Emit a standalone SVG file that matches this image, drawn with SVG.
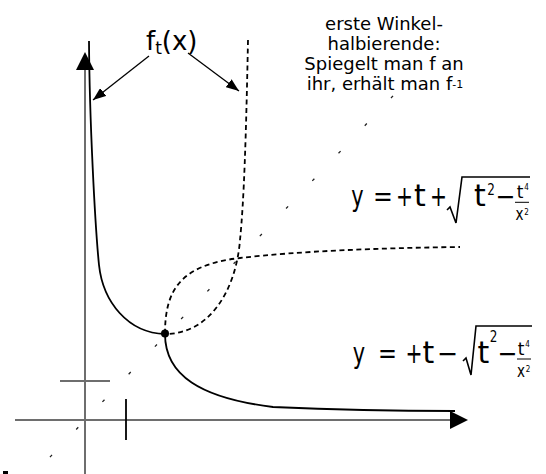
<svg xmlns="http://www.w3.org/2000/svg" width="546" height="474" viewBox="0 0 546 474">
<defs>
<style>
.axis{stroke:#6e6e6e;stroke-width:2;fill:none}
.curve{stroke:#000;stroke-width:1.8;fill:none}
.dash{stroke:#000;stroke-width:1.8;fill:none;stroke-dasharray:5 3.5}
.diag{stroke:#222;stroke-width:1.3;fill:none;stroke-dasharray:3 35.09}
.lbl{font-family:"DejaVu Sans","Liberation Sans",sans-serif;fill:#000}
.f{font-family:"DejaVu Sans","Liberation Sans",sans-serif;fill:#000;text-anchor:middle}
.rad{stroke:#000;stroke-width:1.6;fill:none}
.ptr{stroke:#000;stroke-width:1.3;fill:none}
</style>
<marker id="ah" viewBox="0 0 13 10" refX="13" refY="5" markerWidth="13" markerHeight="10" markerUnits="userSpaceOnUse" orient="auto">
<path d="M0,0 L13,5 L0,10 z" fill="#000"/>
</marker>
</defs>
<rect width="546" height="474" fill="#fff"/>

<g id="axes">
<line class="axis" x1="85" y1="62" x2="85" y2="474"/>
<polygon points="85,52 94,70 76,70" fill="#000"/>
<line class="axis" x1="15" y1="420" x2="452" y2="420"/>
<polygon points="468,420 450,411 450,429" fill="#000"/>
<line class="axis" x1="60" y1="381" x2="110" y2="381"/>
<line stroke="#000" stroke-width="1.8" x1="126" y1="399" x2="126" y2="440"/>
<rect x="3" y="471" width="5" height="4" fill="#000"/>
</g>

<g id="bisector">
<line class="diag" x1="49.97" y1="457.09" x2="393.03" y2="95.91"/>
</g>

<g id="curves">
<path id="f-upper" class="curve" d="M89,41 C89.5,120 95,225 99,265 C103,302 128,333 165,334"/>
<path id="f-lower" class="curve" d="M165,334 C165,375 200,398 273,407 C340,410 400,411 455,411"/>
<path id="inv-vertical" class="dash" d="M248,40 C246,140 244,200 240,240 C236,290 210,334 165,334"/>
<path id="inv-horizontal" class="dash" d="M165,334 C165,290 180,265 240,258 C300,251 380,248 460,247"/>
<circle cx="165" cy="333.5" r="4" fill="#000"/>
</g>

<g id="connectors">
<line class="ptr" x1="149" y1="56" x2="93" y2="100" marker-end="url(#ah)"/>
<line class="ptr" x1="188" y1="53" x2="239" y2="91" marker-end="url(#ah)"/>
</g>

<g id="label-f">
<text class="lbl" x="146" y="50" font-size="26">f<tspan font-size="17" dy="4">t</tspan><tspan font-size="26" dy="-4">(x)</tspan></text>
</g>

<g id="label-bisector">
<text class="lbl" x="384" y="30" font-size="18" text-anchor="middle">erste Winkel-</text>
<text class="lbl" x="384" y="50" font-size="18" text-anchor="middle">halbierende:</text>
<text class="lbl" x="384" y="70" font-size="18" text-anchor="middle">Spiegelt man f an</text>
<text class="lbl" x="385" y="90" font-size="18" text-anchor="middle">ihr, erhält man f<tspan font-size="11" dy="-2">-1</tspan></text>
</g>

<g id="formula-plus">
<text class="f" transform="translate(357.5,206) scale(0.72,1)" font-size="29">y</text>
<text class="f" transform="translate(383,206) scale(0.82,1)" font-size="29">=</text>
<text class="f" transform="translate(404.5,206) scale(0.7,1)" font-size="29">+</text>
<text class="f" x="420" y="206" font-size="30">t</text>
<text class="f" transform="translate(438.5,206) scale(0.7,1)" font-size="29">+</text>
<path class="rad" d="M447,210 L450,207 L456,223 L462,177 L530,177"/>
<text class="f" x="480" y="206" font-size="30">t</text>
<text class="f" transform="translate(491,195) scale(0.75,1)" font-size="16">2</text>
<text class="f" transform="translate(505.5,206) scale(0.85,1)" font-size="28">−</text>
<text class="f" x="520" y="198" font-size="17">t</text>
<text class="f" transform="translate(526.5,190) scale(0.8,1)" font-size="9">4</text>
<line stroke="#000" stroke-width="1" x1="515" y1="202.3" x2="529" y2="202.3"/>
<text class="f" transform="translate(519.5,220) scale(0.75,1)" font-size="18">x</text>
<text class="f" transform="translate(526.5,214.5) scale(0.8,1)" font-size="9">2</text>
</g>

<g id="formula-minus">
<text class="f" transform="translate(359,363) scale(0.72,1)" font-size="29">y</text>
<text class="f" transform="translate(387.5,363) scale(0.78,1)" font-size="29">=</text>
<text class="f" transform="translate(414,363) scale(0.7,1)" font-size="29">+</text>
<text class="f" x="428.5" y="363" font-size="30">t</text>
<text class="f" transform="translate(447.5,363) scale(0.9,1)" font-size="28">−</text>
<path class="rad" d="M463,361 L466,358 L471,375 L476,326 L532,326"/>
<text class="f" x="483.5" y="363" font-size="30">t</text>
<text class="f" transform="translate(493.5,342) scale(0.75,1)" font-size="16">2</text>
<text class="f" transform="translate(507.5,363) scale(0.85,1)" font-size="28">−</text>
<text class="f" x="521" y="355" font-size="17">t</text>
<text class="f" transform="translate(527.5,347) scale(0.8,1)" font-size="9">4</text>
<line stroke="#000" stroke-width="1" x1="517" y1="359" x2="531" y2="359"/>
<text class="f" transform="translate(521,377) scale(0.75,1)" font-size="18">x</text>
<text class="f" transform="translate(528,371.5) scale(0.8,1)" font-size="9">2</text>
</g>
</svg>
